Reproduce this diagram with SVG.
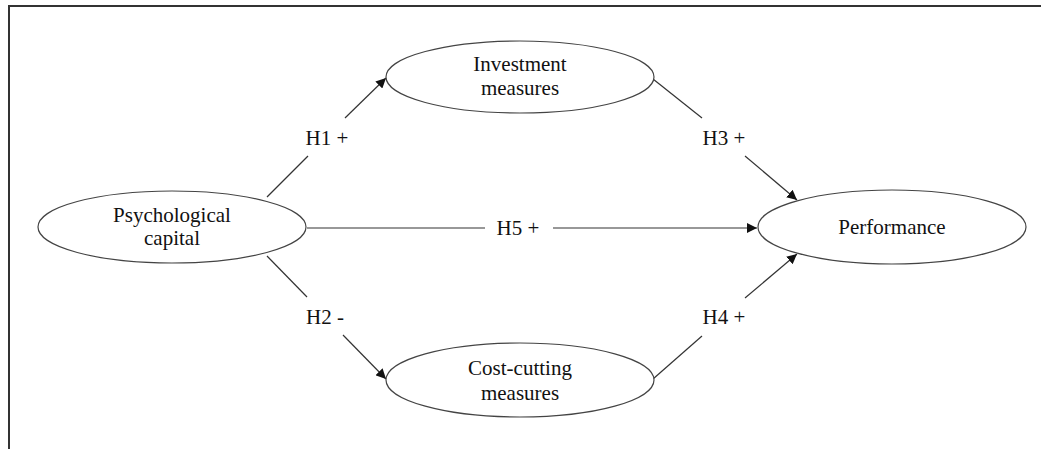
<svg xmlns="http://www.w3.org/2000/svg" width="1041" height="449" viewBox="0 0 1041 449">
<style>
.n{fill:#fff;stroke:#444;stroke-width:1.2}
.t{font-family:"Liberation Serif","Times New Roman",serif;font-size:21px;fill:#111;text-anchor:middle}
.c{stroke:#333;stroke-width:1.2;fill:none}
</style>
<defs>
<marker id="ah" viewBox="0 0 10 10" refX="10" refY="5" markerWidth="10" markerHeight="10" markerUnits="userSpaceOnUse" orient="auto">
<path d="M0,0 L10,5 L0,10 z" fill="#111"/>
</marker>
</defs>
<rect width="1041" height="449" fill="#fff"/>
<path d="M9,449 V6 H1041" fill="none" stroke="#333" stroke-width="2"/>
<g id="connectors">
<line class="c" x1="267" y1="197" x2="308" y2="156"/>
<line class="c" x1="345" y1="118" x2="386" y2="78" marker-end="url(#ah)"/>
<line class="c" x1="653" y1="79" x2="702" y2="118"/>
<line class="c" x1="745" y1="156" x2="797" y2="200" marker-end="url(#ah)"/>
<line class="c" x1="307" y1="228" x2="485" y2="228"/>
<line class="c" x1="553" y1="228" x2="757" y2="228" marker-end="url(#ah)"/>
<line class="c" x1="267" y1="256" x2="307" y2="297"/>
<line class="c" x1="343" y1="335" x2="386" y2="379" marker-end="url(#ah)"/>
<line class="c" x1="653" y1="379" x2="702" y2="336"/>
<line class="c" x1="745" y1="298" x2="797" y2="254" marker-end="url(#ah)"/>
<text class="t" x="327" y="145">H1 +</text>
<text class="t" x="724" y="145">H3 +</text>
<text class="t" x="518" y="235">H5 +</text>
<text class="t" x="325" y="324">H2 -</text>
<text class="t" x="724" y="324">H4 +</text>
</g>
<g id="psycap">
<ellipse class="n" cx="172" cy="227" rx="134" ry="36"/>
<text class="t" x="172" y="222">Psychological</text>
<text class="t" x="172" y="245">capital</text>
</g>
<g id="investment">
<ellipse class="n" cx="520" cy="77" rx="134" ry="36"/>
<text class="t" x="520" y="71">Investment</text>
<text class="t" x="520" y="95">measures</text>
</g>
<g id="performance">
<ellipse class="n" cx="892" cy="227" rx="134" ry="37"/>
<text class="t" x="892" y="234">Performance</text>
</g>
<g id="costcutting">
<ellipse class="n" cx="520" cy="380" rx="134" ry="37"/>
<text class="t" x="520" y="375">Cost-cutting</text>
<text class="t" x="520" y="400">measures</text>
</g>
</svg>
